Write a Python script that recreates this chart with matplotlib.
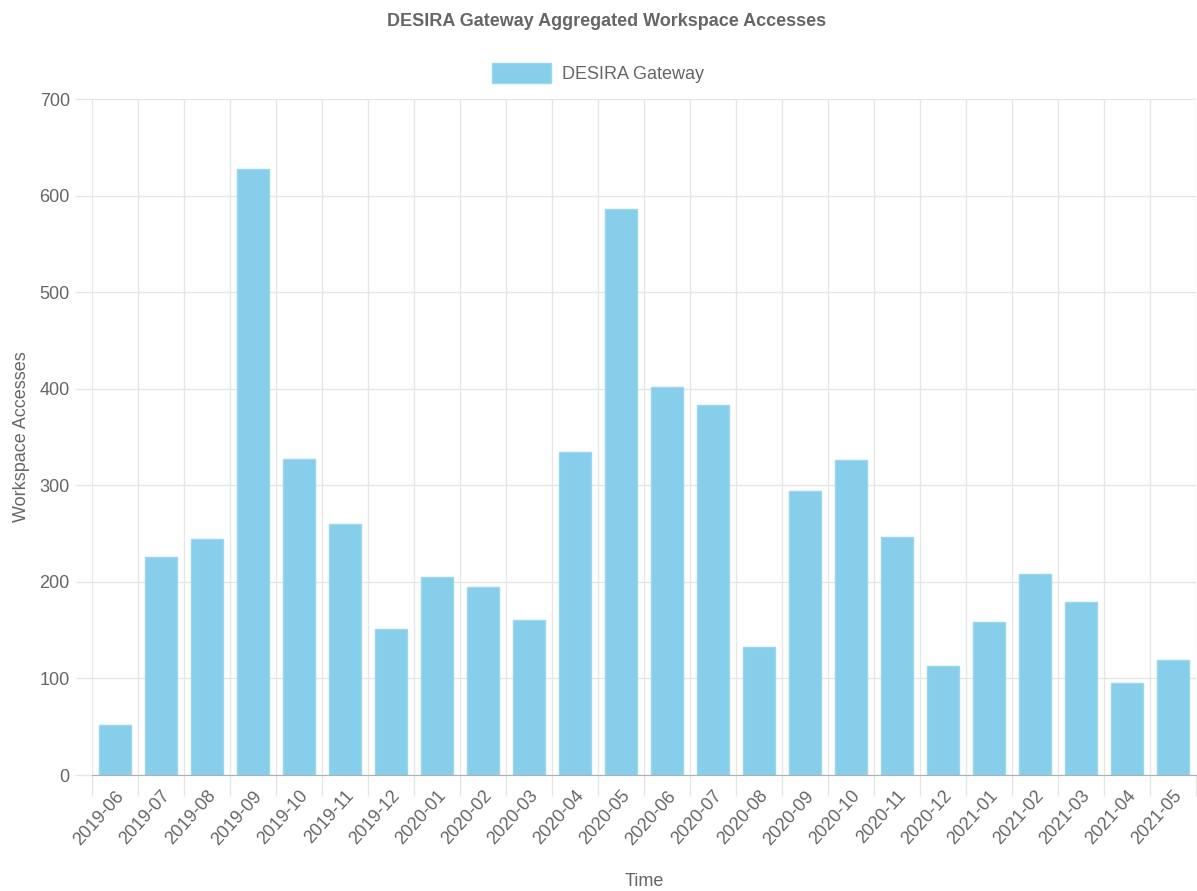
import numpy as np
import matplotlib.pyplot as plt
from matplotlib.ticker import FixedLocator

months = ['2019-06', '2019-07', '2019-08', '2019-09', '2019-10', '2019-11', '2019-12',
          '2020-01', '2020-02', '2020-03', '2020-04', '2020-05', '2020-06', '2020-07',
          '2020-08', '2020-09', '2020-10', '2020-11', '2020-12', '2021-01', '2021-02',
          '2021-03', '2021-04', '2021-05']
accesses = [52, 226, 244, 627, 327, 260, 151, 205, 195, 161, 334, 586, 402, 383,
            133, 294, 326, 246, 113, 158, 208, 179, 95, 119]
series_name = 'DESIRA Gateway'
y_ticks = [0, 100, 200, 300, 400, 500, 600, 700]

plt.rcParams['font.family'] = ['Liberation Sans', 'DejaVu Sans']
text_col = '#666666'
grid_col = '#e6e6e6'
bar_col = '#87CEEB'

fig = plt.figure(figsize=(11.97, 8.91), dpi=100)
ax = fig.add_axes([92 / 1197, 1 - 775 / 891, 1104 / 1197, 676 / 891])

ind = np.arange(len(months))
ax.bar(ind, accesses, 0.7, color=bar_col, edgecolor='#9ad6ef', linewidth=1, zorder=3,
       label=series_name)

ax.set_xlim(-0.5, len(months) - 0.5)
ax.set_ylim(0, 700)

# gridlines: vertical at category boundaries, horizontal at y ticks
ax.xaxis.set_minor_locator(FixedLocator(np.arange(-0.5, len(months), 1.0)))
ax.set_xticks(ind)
ax.set_xticklabels(months, rotation=48, ha='right', va='top', rotation_mode='anchor')
ax.set_yticks(y_ticks)
ax.grid(True, which='minor', axis='x', color=grid_col, linewidth=1, zorder=0)
ax.grid(True, which='major', axis='y', color=grid_col, linewidth=1, zorder=0)
ax.tick_params(axis='x', which='major', length=0, pad=9, labelsize=13, labelcolor=text_col)
ax.tick_params(axis='x', which='minor', length=15, color=grid_col, width=1)
ax.tick_params(axis='y', length=12, color=grid_col, width=1, pad=4, labelsize=13,
               labelcolor=text_col)

for side in ['top', 'right', 'left']:
    ax.spines[side].set_visible(False)
ax.spines['bottom'].set_color('#b0b0b0')
ax.spines['bottom'].set_zorder(4)

ax.set_ylabel('Workspace Accesses', fontsize=13, color=text_col)
ax.yaxis.set_label_coords(-62 / 1104, 0.5)
ax.set_xlabel('Time', fontsize=13, color=text_col)
ax.xaxis.set_label_coords(0.5, -(873 - 775) / 676)

fig.text(607 / 1197, 1 - 22 / 891, 'DESIRA Gateway Aggregated Workspace Accesses',
         ha='center', va='center', fontsize=13, fontweight='bold', color=text_col)
leg = fig.legend(loc='center', bbox_to_anchor=(598 / 1197, 1 - 73 / 891), frameon=False,
                 fontsize=13, labelcolor=text_col, handlelength=3.3, handleheight=1.3,
                 handletextpad=0.6)

fig.savefig('out.png', dpi=100)
